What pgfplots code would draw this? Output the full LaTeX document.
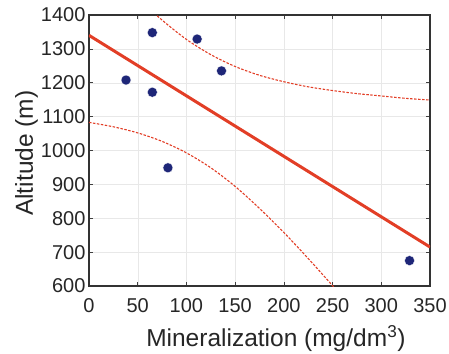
\documentclass[border=0pt]{standalone}
\usepackage{fontspec}
\setmainfont{Liberation Sans}
\usepackage{pgfplots}
\pgfplotsset{compat=1.18}
\definecolor{redl}{RGB}{226,62,38}
\definecolor{navy}{RGB}{30,38,120}
\pgfplotstableread{
x y
38 1208
65 1348
65 1172
81 949
111 1329
136 1235
329 675
}\ptsdata
\pgfplotstableread{
x y
0 1597
25 1521
50 1450
75 1385
100 1328
125 1283
150 1248
175 1222
200 1203
225 1188
250 1177
275 1168
300 1161
325 1154
350 1149
}\upperband
\pgfplotstableread{
x y
0 1083
25 1070
50 1052
75 1027
100 993
125 949
150 894
175 829
200 758
225 681
250 601
275 518
}\lowerband
\begin{document}
\begin{tikzpicture}
\begin{axis}[
  at={(0,0)}, anchor=south west,
  scale only axis, width=341bp, height=271bp,
  xmin=0, xmax=350, ymin=600, ymax=1400,
  xtick={0,50,...,350}, ytick={600,700,...,1400},
  grid=major, grid style={gray!18, line width=0.4pt},
  tick align=inside, tick pos=both,
  major tick length=4bp,
  tick style={black!75, line width=0.6pt},
  axis line style={black!80, line width=1.5bp},
  /pgf/number format/assume math mode=true,
  /pgf/number format/1000 sep={},
  tick label style={font=\fontsize{20bp}{20bp}\selectfont, text=black!85},
  xticklabel style={anchor=center, yshift=-19.5bp},
  yticklabel style={anchor=east, xshift=0bp},
  label style={font=\fontsize{24.5bp}{24.5bp}\selectfont, text=black!85},
  xlabel={Mineralization (mg/dm\textsuperscript{3})},
  ylabel={Altitude (m)},
  xlabel style={at={(axis description cs:0.548,0)}, anchor=base, yshift=-60bp},
  ylabel style={at={(axis description cs:0,0.49)}, anchor=base, yshift=56bp},
]
\addplot[redl, line width=3bp] coordinates {(0,1340) (350,715)};
\addplot[redl, line width=1.1bp, dash pattern=on 2.5bp off 1.5bp, smooth] table {\upperband};
\addplot[redl, line width=1.1bp, dash pattern=on 2.5bp off 1.5bp, smooth] table {\lowerband};
\addplot[only marks, mark=*, mark size=5bp, navy, mark options={draw=white, line width=0.3pt, fill=navy}] table {\ptsdata};
\end{axis}
\pgfresetboundingbox
\useasboundingbox (-89bp,-68bp) rectangle (360bp,286bp);
\end{tikzpicture}
\end{document}
